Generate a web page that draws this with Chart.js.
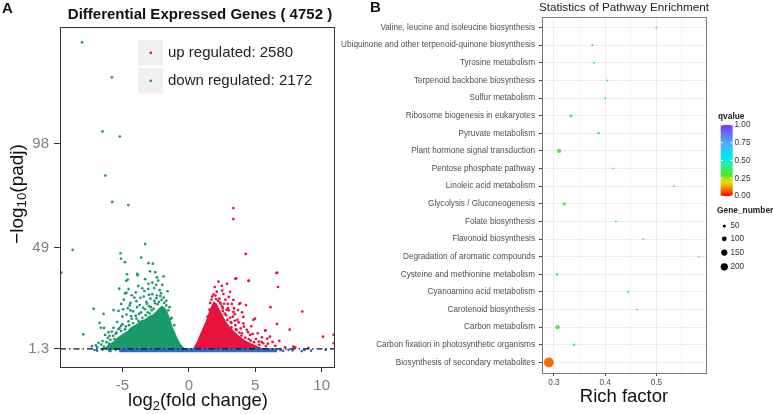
<!DOCTYPE html>
<html lang="en">
<head>
<meta charset="UTF-8">
<title>DEG volcano and pathway enrichment</title>
<script src="https://cdn.jsdelivr.net/npm/chart.js"></script>
<style>
  body { margin: 0; background: #fff; }
  .panel { position: absolute; top: 0; }
  #panelA { left: 0; width: 340px; height: 414px; }
  #panelB { left: 340px; width: 433px; height: 414px; }
</style>
</head>
<body>
<div class="panel" id="panelA"><canvas id="volcanoChart" width="340" height="414"></canvas></div>
<div class="panel" id="panelB"><canvas id="pathwayChart" width="433" height="414"></canvas></div>
<script>
// ---------- panel A: volcano plot ----------
const volcanoXTicks = [-5, 0, 5, 10];
const volcanoYTicks = [1.3, 49, 98];
const volcanoXRange = [-9.7, 11];
const volcanoYRange = [-7.2, 153];
const padjCutoff = 1.3;
const totalDeg = 4752;
const upCount = 2580;
const downCount = 2172;

// dense cloud outlines (log2FC, -log10 padj)
const downCore = [[-6.3,1.3],[-6.0,3.0],[-5.6,4.6],[-5.3,6.4],[-4.9,8.2],[-4.6,9.3],[-4.3,11.2],[-3.9,12.6],[-3.6,14.2],[-3.3,14.8],[-3.0,16.3],[-2.7,17.0],[-2.45,18.4],[-2.25,19.8],[-2.05,21.0],[-1.9,20.6],[-1.75,19.4],[-1.6,17.2],[-1.45,14.4],[-1.3,11.6],[-1.15,9.4],[-1.0,7.2],[-0.85,5.2],[-0.7,3.6],[-0.55,2.4],[-0.4,1.3],[-6.3,1.3]];
const upCore = [[0.38,1.3],[0.5,2.6],[0.7,4.8],[0.85,7.1],[1.0,9.2],[1.15,11.4],[1.35,14.2],[1.5,17.0],[1.65,19.6],[1.78,21.6],[1.9,23.0],[2.02,22.4],[2.15,20.8],[2.3,19.0],[2.45,17.2],[2.6,15.4],[2.8,13.4],[3.05,11.2],[3.3,9.6],[3.6,7.8],[4.0,5.8],[4.4,4.2],[4.9,2.8],[5.4,1.3],[0.38,1.3]];
const notSigBand = [[-5.2,1.3],[6.6,1.3],[6.6,0.1],[-5.2,0.1],[-5.2,1.3]];

const downPoints = [[-8.04,145.8],[-5.79,129.3],[-6.5,103.8],[-5.2,101.4],[-6.29,83.0],[-5.77,70.6],[-4.56,69.1],[-8.75,48.0],[-3.29,50.7],[-5.14,46.4],[-5.11,43.8],[-4.81,42.2],[-3.59,44.4],[-3.04,41.7],[-2.71,41.5],[-4.66,36.5],[-3.89,36.7],[-3.85,36.0],[-2.93,37.9],[-2.53,37.5],[-9.6,37.3],[-4.71,33.4],[-4.6,34.0],[-3.29,34.2],[-3.04,32.0],[-2.31,33.5],[-2.46,31.5],[-5.24,29.7],[-4.54,29.5],[-4.81,27.4],[-4.7,27.8],[-3.51,29.9],[-3.06,29.6],[-2.76,27.1],[-2.2,29.0],[-7.17,20.3],[-6.42,17.8],[-5.67,19.6],[-5.29,19.2],[-6.72,13.6],[-6.62,11.3],[-6.39,11.2],[-7.95,8.2],[-5.97,7.4],[-5.67,11.3],[-5.22,11.2],[-4.9,24.5],[-4.4,23.0],[-4.1,25.5],[-3.7,22.0],[-3.4,26.0],[-3.2,23.5],[-2.9,25.0],[-2.6,24.0],[-2.4,26.5],[-2.1,27.5],[-1.9,25.5],[-1.7,24.0],[-4.6,20.5],[-4.2,19.0],[-3.9,21.0],[-3.6,18.5],[-3.3,20.0],[-3.0,21.5],[-2.8,19.5],[-5.0,16.5],[-4.7,17.5],[-4.3,15.5],[-4.0,17.0],[-3.8,14.5],[-3.5,16.0],[-5.4,14.0],[-5.0,13.0],[-4.5,12.5],[-4.2,13.5],[-5.8,9.5],[-5.5,8.5],[-5.1,9.8],[-4.8,10.5],[-6.1,6.5],[-6.5,5.0],[-6.8,4.2],[-6.0,3.8],[-5.6,6.0],[-7.3,2.6],[-4.0,28.0],[-3.8,31.0],[-2.6,30.0],[-2.0,31.5],[-1.6,28.5],[-1.45,21.0],[-1.3,16.0],[-1.1,12.5],[-1.9,35.5],[-6.9,2.2],[-6.6,3.4],[-5.9,2.0],[-4.4,19.5],[-3.1,18.6],[-2.35,22.4],
  [-6.2,4.5],[-5.9,5.6],[-5.7,7.5],[-5.45,9.0],[-5.3,10.6],[-5.1,12.2],[-4.95,7.8],[-4.75,11.9],[-4.55,14.3],[-4.35,16.8],[-4.15,10.8],[-3.95,15.6],[-3.75,17.8],[-3.55,13.3],[-3.45,20.8],[-3.25,17.2],[-3.15,22.6],[-2.95,18.0],[-2.85,21.0],[-2.65,20.2],[-2.55,22.8],[-2.45,25.2],[-2.25,23.5],[-2.05,24.4],[-1.85,23.0],[-1.7,21.8],[-1.55,19.5],[-1.35,15.5],[-5.6,3.2],[-6.4,2.4],[-7.0,3.0],[-6.3,7.9],[-6.05,9.2],[-4.45,21.8],[-3.95,23.8],[-3.65,25.4],[-3.35,28.6],[-2.75,32.6],[-2.4,35.0],[-4.95,20.0],[-5.1,22.5],[-4.3,26.6],[-3.0,26.8],[-2.15,26.2]];

const upPoints = [[3.35,67.7],[3.35,62.5],[4.28,46.1],[6.59,37.1],[6.65,37.3],[6.71,30.5],[4.51,33.5],[3.5,34.3],[3.56,34.6],[4.48,33.4],[2.23,33.0],[2.48,31.0],[2.88,32.0],[3.1,28.2],[2.6,27.2],[2.1,28.3],[3.35,24.4],[3.8,22.5],[2.93,22.5],[3.23,22.5],[2.56,20.5],[6.14,21.0],[8.54,18.9],[3.46,17.7],[4.1,16.4],[4.98,15.6],[3.65,15.0],[4.1,13.4],[6.64,13.1],[7.59,10.4],[5.76,10.1],[5.19,8.7],[4.61,7.9],[6.1,7.1],[5.9,6.2],[10.1,7.1],[6.81,5.1],[5.46,4.6],[4.0,8.7],[4.36,10.3],[7.24,2.1],[7.86,2.4],[5.74,9.9],[4.86,15.0],[4.3,22.0],[3.86,22.9],[10.9,8.0],[10.9,4.0],[2.0,26.5],[2.3,25.0],[2.75,24.5],[2.4,22.5],[3.0,19.5],[2.7,18.0],[3.3,16.5],[2.9,15.0],[3.5,12.5],[3.2,11.5],[3.9,11.0],[4.5,6.0],[4.9,4.5],[5.3,3.2],[5.8,2.6],[6.5,2.8],[4.2,4.0],[3.7,6.5],[1.6,23.0],[1.75,26.0],[1.95,30.5],[8.0,2.0],[9.0,1.8],[2.2,24.0],[2.5,21.4],[2.85,19.8],[3.15,14.0],[3.6,10.2],[4.7,12.0],[5.5,6.8],[3.4,20.4],
  [1.4,16.6],[1.55,19.8],[1.7,24.6],[1.85,27.0],[2.05,24.8],[2.35,23.2],[2.55,19.2],[2.65,22.6],[2.8,17.2],[2.95,20.6],[3.1,16.0],[3.2,13.6],[3.35,18.8],[3.45,14.6],[3.55,10.6],[3.75,13.8],[3.8,9.0],[3.95,7.6],[4.15,11.8],[4.25,6.6],[4.45,9.2],[4.65,5.2],[4.8,8.4],[5.05,6.0],[5.25,4.8],[5.6,4.0],[5.95,3.8],[6.3,4.6],[4.0,18.6],[3.7,19.6],[2.5,28.8],[3.0,25.8]];

const notSigPoints = [[-7.1,0.8],[-6.9,0.5],[-6.5,1.0],[-6.0,0.6],[-5.9,0.3],[-5.5,0.9],[6.9,0.7],[7.1,0.4],[7.5,0.9],[7.8,0.6],[8.5,0.3],[8.7,0.8],[9.2,0.5],[10.3,0.9]];

// ---------- panel B: KEGG enrichment ----------
const pathways = ['Valine, leucine and isoleucine biosynthesis','Ubiquinone and other terpenoid-quinone biosynthesis','Tyrosine metabolism','Terpenoid backbone biosynthesis','Sulfur metabolism','Ribosome biogenesis in eukaryotes','Pyruvate metabolism','Plant hormone signal transduction','Pentose phosphate pathway','Linoleic acid metabolism','Glycolysis / Gluconeogenesis','Folate biosynthesis','Flavonoid biosynthesis','Degradation of aromatic compounds','Cysteine and methionine metabolism','Cyanoamino acid metabolism','Carotenoid biosynthesis','Carbon metabolism','Carbon fixation in photosynthetic organisms','Biosynthesis of secondary metabolites'];
const richFactor = [0.500,0.375,0.378,0.404,0.400,0.333,0.387,0.310,0.416,0.534,0.320,0.421,0.474,0.583,0.306,0.445,0.462,0.307,0.339,0.290];
const qValue = [0.45,0.42,0.42,0.43,0.43,0.37,0.40,0.31,0.43,0.45,0.35,0.43,0.45,0.46,0.40,0.43,0.44,0.33,0.40,0.09];
const geneNumber = [29,32,32,29,29,52,40,82,29,26,57,29,26,26,44,36,29,82,36,335];
const richTicks = [0.3, 0.4, 0.5];
const richMinorTicks = [0.35, 0.45, 0.55];
const richRange = [0.2766, 0.597];
const qLegendBreaks = [0, 0.25, 0.5, 0.75, 1];
const geneLegendBreaks = [50, 100, 150, 200];

// ---------- styling helpers ----------
const FONT = 'Liberation Sans, Arial, Helvetica, sans-serif';
const GREEN = '#1a9a68', RED = '#e8123f', BLUE = '#2b6ec8';
const qStops = [[0,[255,0,0]],[0.1,[255,120,0]],[0.2,[230,230,0]],[0.3,[80,230,40]],[0.45,[40,240,170]],[0.55,[0,230,240]],[0.75,[80,170,255]],[1,[130,50,255]]];

function qColor(q) {
  for (let i = 1; i < qStops.length; i++) {
    const [q0, c0] = qStops[i - 1], [q1, c1] = qStops[i];
    if (q <= q1) {
      const t = (q - q0) / (q1 - q0);
      const c = c0.map((v, k) => Math.round(v + (c1[k] - v) * t));
      return 'rgb(' + c.join(',') + ')';
    }
  }
  return 'rgb(' + qStops[qStops.length - 1][1].join(',') + ')';
}
function geneRadius(n) { return Math.max(0.8, -0.6 + 0.3 * Math.sqrt(n)); }
const toXY = arr => arr.map(([x, y]) => ({x, y}));

// text with subscript parts: [[text, isSub], ...]
function drawRich(ctx, parts, cx, cy, size) {
  const big = size + 'px ' + FONT, small = (size * 0.7) + 'px ' + FONT;
  let w = 0;
  parts.forEach(([t, sub]) => { ctx.font = sub ? small : big; w += ctx.measureText(t).width; });
  let x = cx - w / 2;
  const base = cy + size * 0.35;
  ctx.textAlign = 'left';
  ctx.textBaseline = 'alphabetic';
  parts.forEach(([t, sub]) => {
    ctx.font = sub ? small : big;
    ctx.fillText(t, x, sub ? base + size * 0.2 : base);
    x += ctx.measureText(t).width;
  });
}

// ---------- chart A ----------
const volcanoDecor = {
  id: 'volcanoDecor',
  afterDraw(chart) {
    const ctx = chart.ctx, a = chart.chartArea;
    ctx.save();
    ctx.strokeStyle = '#333';
    ctx.lineWidth = 1;
    ctx.strokeRect(Math.round(a.left) + 0.5, Math.round(a.top) + 0.5, Math.round(a.right - a.left) - 1, Math.round(a.bottom - a.top));

    // legend
    const rows = [[RED, 'up regulated: ' + upCount, 40], [GREEN, 'down regulated: ' + downCount, 68]];
    rows.forEach(([col, label, top]) => {
      ctx.fillStyle = '#f0f0f0';
      ctx.fillRect(138, top, 25, 25.5);
      ctx.fillStyle = col;
      ctx.beginPath(); ctx.arc(150.8, top + 12.8, 1.4, 0, Math.PI * 2); ctx.fill();
      ctx.fillStyle = '#222';
      ctx.font = '15px ' + FONT;
      ctx.textAlign = 'left'; ctx.textBaseline = 'middle';
      ctx.fillText(label, 168, top + 13);
    });

    // titles
    ctx.fillStyle = '#111';
    ctx.font = 'bold 15px ' + FONT;
    ctx.textAlign = 'center'; ctx.textBaseline = 'middle';
    ctx.fillText('Differential Expressed Genes ( ' + totalDeg + ' )', 200, 15);
    ctx.textAlign = 'left';
    ctx.fillText('A', 2, 9);

    ctx.fillStyle = '#111';
    drawRich(ctx, [['log', false], ['2', true], ['(fold change)', false]], 198, 400, 18.5);
    ctx.translate(16, 194);
    ctx.rotate(-Math.PI / 2);
    drawRich(ctx, [['\u2212log', false], ['10', true], ['(padj)', false]], 0, 0, 19);
    ctx.restore();
  }
};

const scatterPts = (pts, col) => ({ data: toXY(pts), backgroundColor: col, borderWidth: 0, pointRadius: 1.35 });
const cloud = (pts, col, bw) => ({ type: 'line', data: toXY(pts), fill: 'shape', backgroundColor: col, borderColor: col, borderWidth: bw, pointRadius: 0, tension: 0 });

new Chart(document.getElementById('volcanoChart'), {
  type: 'scatter',
  data: {
    datasets: [
      { type: 'line', data: [{x: volcanoXRange[0], y: padjCutoff}, {x: volcanoXRange[1], y: padjCutoff}], borderColor: '#111', borderWidth: 1.2, borderDash: [6, 3, 1.5, 3], pointRadius: 0, fill: false },
      scatterPts(notSigPoints, BLUE),
      cloud(notSigBand, BLUE, 1.4),
      scatterPts(upPoints, RED),
      scatterPts(downPoints, GREEN),
      cloud(upCore, RED, 2.2),
      cloud(downCore, GREEN, 2.2)
    ]
  },
  options: {
    responsive: false,
    animation: false,
    devicePixelRatio: 1,
    layout: { padding: { top: 27, right: 5, left: 0, bottom: 0 } },
    plugins: { legend: { display: false }, tooltip: { enabled: false } },
    scales: {
      x: {
        min: volcanoXRange[0], max: volcanoXRange[1],
        afterBuildTicks: s => { s.ticks = volcanoXTicks.map(v => ({value: v})); },
        afterFit: s => { s.height = 47; },
        ticks: { color: '#808080', font: { family: FONT, size: 15 }, padding: 5, maxRotation: 0, autoSkip: false },
        grid: { drawOnChartArea: false, tickLength: 5, tickColor: '#333' },
        border: { display: false }
      },
      y: {
        min: volcanoYRange[0], max: volcanoYRange[1],
        afterBuildTicks: s => { s.ticks = volcanoYTicks.map(v => ({value: v})); },
        afterFit: s => { s.width = 60; },
        ticks: { color: '#808080', font: { family: FONT, size: 15 }, padding: 5, callback: v => String(v) },
        grid: { drawOnChartArea: false, tickLength: 6, tickColor: '#333' },
        border: { display: false }
      }
    }
  },
  plugins: [volcanoDecor]
});

// ---------- chart B ----------
const pathwayDecor = {
  id: 'pathwayDecor',
  afterDraw(chart) {
    const ctx = chart.ctx, a = chart.chartArea;
    ctx.save();
    ctx.strokeStyle = '#7a7a7a';
    ctx.lineWidth = 1;
    ctx.strokeRect(Math.round(a.left) + 0.5, Math.round(a.top) + 0.5, Math.round(a.right - a.left), Math.round(a.bottom - a.top));

    const cx = (a.left + a.right) / 2;
    ctx.fillStyle = '#222';
    ctx.font = '11.7px ' + FONT;
    ctx.textAlign = 'center'; ctx.textBaseline = 'middle';
    ctx.fillText('Statistics of Pathway Enrichment', cx, 7.5);
    ctx.fillStyle = '#111';
    ctx.font = '18.5px ' + FONT;
    ctx.fillText('Rich factor', cx, 397);
    ctx.font = 'bold 15px ' + FONT;
    ctx.textAlign = 'left';
    ctx.fillText('B', 30, 8);

    // qvalue colourbar
    const barL = 380.7, barW = 12, barT = 125, barB = 196;
    ctx.fillStyle = '#222';
    ctx.font = 'bold 8.4px ' + FONT;
    ctx.fillText('qvalue', 378, 117);
    const g = ctx.createLinearGradient(0, barB, 0, barT);
    qStops.forEach(([q, c]) => g.addColorStop(q, 'rgb(' + c.join(',') + ')'));
    ctx.fillStyle = g;
    ctx.fillRect(barL, barT, barW, barB - barT);
    ctx.font = '8.2px ' + FONT;
    qLegendBreaks.forEach(q => {
      const y = barB - q * (barB - barT);
      ctx.strokeStyle = '#fff';
      ctx.beginPath();
      ctx.moveTo(barL, y); ctx.lineTo(barL + 2.4, y);
      ctx.moveTo(barL + barW - 2.4, y); ctx.lineTo(barL + barW, y);
      ctx.stroke();
      ctx.fillStyle = '#333';
      ctx.fillText(q.toFixed(2), 394.5, y);
    });

    // gene number sizes
    ctx.fillStyle = '#222';
    ctx.font = 'bold 8.4px ' + FONT;
    ctx.fillText('Gene_number', 377, 211);
    const rowY = [226, 238.8, 252.6, 266.8];
    ctx.font = '8.2px ' + FONT;
    geneLegendBreaks.forEach((n, i) => {
      ctx.fillStyle = '#000';
      ctx.beginPath(); ctx.arc(384.3, rowY[i], geneRadius(n), 0, Math.PI * 2); ctx.fill();
      ctx.fillStyle = '#333';
      ctx.fillText(String(n), 390.5, rowY[i]);
    });
    ctx.restore();
  }
};

const xTickValues = richTicks.concat(richMinorTicks).sort((p, q) => p - q);
const isMajor = v => richTicks.includes(v);

new Chart(document.getElementById('pathwayChart'), {
  type: 'bubble',
  data: {
    datasets: [{
      data: pathways.map((p, i) => ({x: richFactor[i], y: i, r: geneRadius(geneNumber[i])})),
      backgroundColor: qValue.map(qColor),
      borderWidth: 0
    }]
  },
  options: {
    responsive: false,
    animation: false,
    devicePixelRatio: 1,
    layout: { padding: { top: 17, right: 67, left: 0, bottom: 0 } },
    plugins: { legend: { display: false }, tooltip: { enabled: false } },
    scales: {
      x: {
        min: richRange[0], max: richRange[1],
        afterBuildTicks: s => { s.ticks = xTickValues.map(v => ({value: v})); },
        afterFit: s => { s.height = 41; },
        ticks: { color: '#4d4d4d', font: { family: FONT, size: 8.2 }, padding: 2, maxRotation: 0, autoSkip: false,
                 callback: v => isMajor(v) ? v.toFixed(1) : '' },
        grid: {
          color: '#ececec',
          lineWidth: c => (c.tick && isMajor(c.tick.value)) ? 1 : 0.6,
          tickLength: 3,
          tickColor: c => (c.tick && isMajor(c.tick.value)) ? '#444' : 'rgba(0,0,0,0)'
        },
        border: { display: false }
      },
      y: {
        min: -0.6, max: pathways.length - 0.4, reverse: true,
        afterBuildTicks: s => { s.ticks = pathways.map((p, i) => ({value: i})); },
        afterFit: s => { s.width = 202; },
        ticks: { color: '#4d4d4d', font: { family: FONT, size: 8.2 }, padding: 4, autoSkip: false,
                 callback: v => pathways[v] },
        grid: { color: '#ececec', tickLength: 3, tickColor: '#444' },
        border: { display: false }
      }
    }
  },
  plugins: [pathwayDecor]
});
</script>
</body>
</html>
